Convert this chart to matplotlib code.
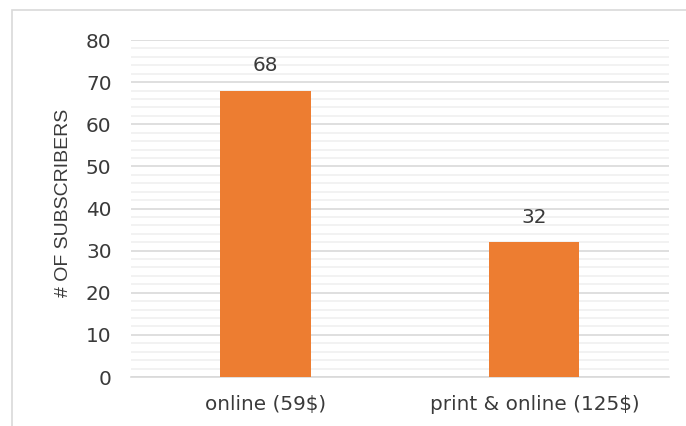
import matplotlib
matplotlib.use("Agg")
import matplotlib.pyplot as plt
from matplotlib.patches import Rectangle
from matplotlib.ticker import MultipleLocator

plt.rcParams['font.family'] = ['DejaVu Sans']

categories = ["online (59$)", "print & online (125$)"]
subscribers = [68, 32]
y_ticks = [0, 10, 20, 30, 40, 50, 60, 70, 80]

text_color = "#3A3A3A"
bar_color = "#ED7D31"

fig = plt.figure(figsize=(6.86, 4.26), dpi=100)
ax = fig.add_axes([0.191, 0.115, 0.784, 0.791])

x = list(range(len(categories)))
bars = ax.bar(x, subscribers, width=0.335, color=bar_color, zorder=3)
for b, v in zip(bars, subscribers):
    ax.annotate(str(v), (b.get_x() + b.get_width() / 2, v),
                xytext=(0, 11), textcoords="offset points",
                ha="center", va="bottom", fontsize=14.4, color=text_color)

ax.set_xlim(-0.5, 1.5)
ax.set_ylim(0, 80)
ax.set_yticks(y_ticks)
ax.yaxis.set_minor_locator(MultipleLocator(2))
ax.set_xticks(x)
ax.set_xticklabels(categories)
ax.grid(axis="y", which="major", color="#D9D9D9", linewidth=1.2, zorder=0)
ax.grid(axis="y", which="minor", color="#F0F0F0", linewidth=1.2, zorder=0)
ax.tick_params(axis="both", which="both", length=0, labelsize=14.4, colors=text_color)
ax.tick_params(axis="y", pad=14)
ax.tick_params(axis="x", pad=13)
for s in ["top", "right", "left"]:
    ax.spines[s].set_visible(False)
ax.spines["bottom"].set_color("#D9D9D9")
ax.spines["bottom"].set_linewidth(1.2)

ax.set_ylabel("# OF SUBSCRIBERS", fontsize=14, family="Liberation Sans",
              color=text_color)
ax.yaxis.set_label_coords(-0.11, 0.516)

fig.patches.append(Rectangle((0.0175, -0.1), 1.2, 0.9765 + 0.1,
                             transform=fig.transFigure, fill=False,
                             edgecolor="#D9D9D9", linewidth=1.2))

fig.savefig("out.png", dpi=100)
